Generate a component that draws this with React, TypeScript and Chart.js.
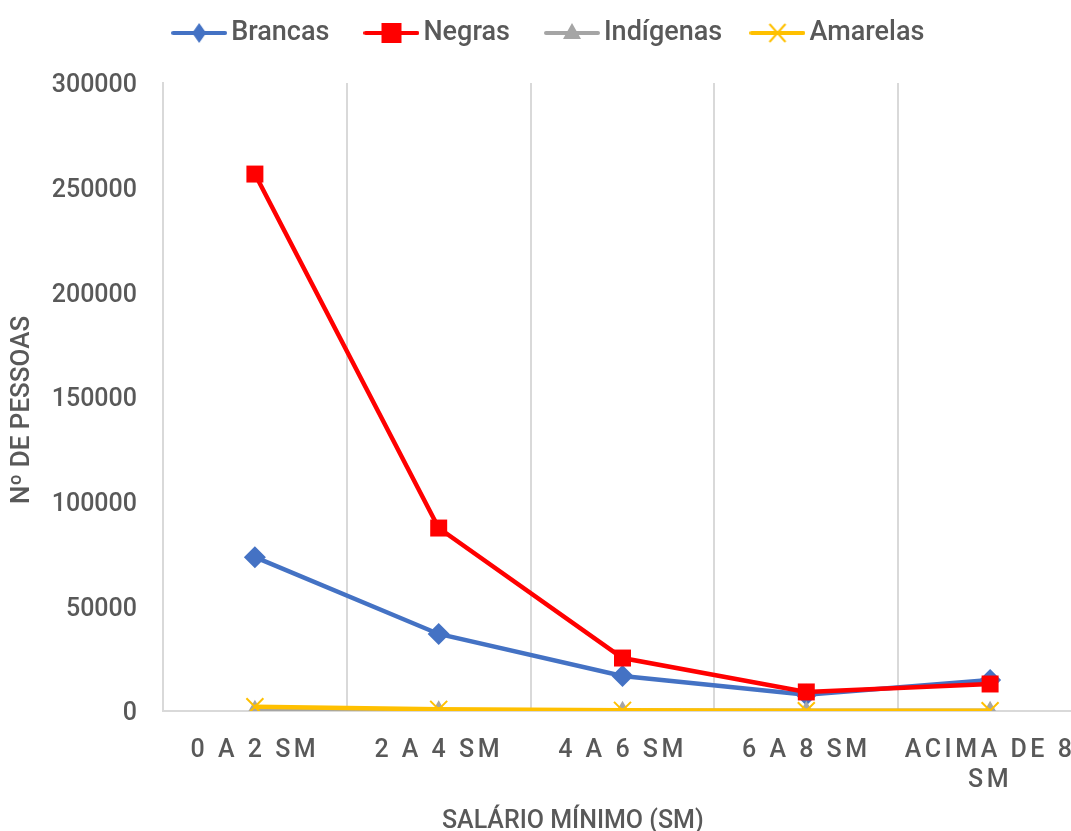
import React, { useEffect, useRef } from 'react';
import { Chart, registerables } from 'chart.js';

Chart.register(...registerables);

// ---- data ----
const categories: (string | string[])[] = ['0 A 2 SM', '2 A 4 SM', '4 A 6 SM', '6 A 8 SM', ['ACIMA DE 8', 'SM']];
const seriesNames = ['Brancas', 'Negras', 'Indígenas', 'Amarelas'];
const brancas = [73500, 36800, 16700, 7800, 14800];
const negras = [256500, 87400, 25300, 9100, 12900];
const indigenas = [600, 300, 150, 80, 80];
const amarelas = [2000, 800, 300, 150, 150];
const yTickValues = [0, 50000, 100000, 150000, 200000, 250000, 300000];
const yTitle = 'Nº DE PESSOAS';
const xTitle = 'SALÁRIO MÍNIMO (SM)';

// ---- styles ----
const colors = ['#4472C4', '#FF0000', '#A5A5A5', '#FFC000'];
const markers = ['diamond', 'square', 'triangle', 'cross'];
const legendGaps = [5, 5, 4, 0];
const TEXT = '#595959';
const GRID = '#D9D9D9';
const FONT = 'Roboto, "DejaVu Sans", sans-serif';
const NBSP = '\u00a0';

function makeLegendImage(color: string, marker: string): HTMLCanvasElement {
  const c = document.createElement('canvas');
  c.width = 56;
  c.height = 30;
  const g = c.getContext('2d')!;
  const cx = 28, cy = 15;
  g.strokeStyle = color;
  g.lineWidth = 4;
  g.lineCap = 'round';
  g.beginPath();
  g.moveTo(2, cy);
  g.lineTo(54, cy);
  g.stroke();
  g.fillStyle = color;
  if (marker === 'diamond') {
    g.beginPath();
    g.moveTo(cx, cy - 10);
    g.lineTo(cx + 7, cy);
    g.lineTo(cx, cy + 10);
    g.lineTo(cx - 7, cy);
    g.closePath();
    g.fill();
  } else if (marker === 'square') {
    g.fillRect(cx - 10, cy - 10, 20, 20);
  } else if (marker === 'triangle') {
    g.beginPath();
    g.moveTo(cx, cy - 10);
    g.lineTo(cx + 9, cy + 6);
    g.lineTo(cx - 9, cy + 6);
    g.closePath();
    g.fill();
  } else {
    g.lineWidth = 2;
    g.lineCap = 'butt';
    g.beginPath();
    g.moveTo(cx - 8, cy - 9);
    g.lineTo(cx + 8, cy + 9);
    g.moveTo(cx + 8, cy - 9);
    g.lineTo(cx - 8, cy + 9);
    g.stroke();
  }
  return c;
}

const LEGEND_DX = 9;
const legendTweak = {
  id: 'legendTweak',
  beforeLayout(chart: any) {
    const lg = chart.legend;
    if (lg && !lg.__patched) {
      const origFit = lg.fit;
      lg.fit = function () {
        origFit.call(this);
        this.height += 26.5;
      };
      const origDraw = lg.draw;
      lg.draw = function () {
        const c = this.ctx;
        c.save();
        c.translate(LEGEND_DX, 0);
        origDraw.call(this);
        c.restore();
      };
      lg.__patched = true;
    }
  },
};

const labelTweak = {
  id: 'labelTweak',
  afterLayout(chart: any) {
    const xs = chart.scales.x;
    if (xs && !xs.__ls) {
      const orig = xs.drawLabels;
      xs.drawLabels = function (area: any) {
        const ctx = this.ctx;
        const prev = ctx.letterSpacing;
        ctx.letterSpacing = '3.5px';
        orig.call(this, area);
        ctx.letterSpacing = prev || '0px';
      };
      xs.__ls = true;
    }
    const ys = chart.scales.y;
    if (ys && !ys.__ls) {
      const orig = ys.drawLabels;
      ys.drawLabels = function (area: any) {
        const ctx = this.ctx;
        ctx.save();
        ctx.translate(0, 3);
        orig.call(this, area);
        ctx.restore();
      };
      ys.__ls = true;
    }
  },
};

export default function App() {
  const ref = useRef<HTMLCanvasElement>(null);

  useEffect(() => {
    if (!ref.current) return;
    const seriesData = [brancas, negras, indigenas, amarelas];
    const pointStyles = ['rectRot', 'rect', 'triangle', 'crossRot'];
    const pointRadii = [11, 12, 10, 12];
    const images = colors.map((c, i) => makeLegendImage(c, markers[i]));

    const chart = new Chart(ref.current, {
      type: 'line',
      data: {
        labels: categories as any,
        datasets: seriesNames.map((name, i) => ({
          label: name,
          data: seriesData[i],
          borderColor: colors[i],
          backgroundColor: colors[i],
          borderWidth: 4.5,
          pointStyle: pointStyles[i] as any,
          pointRadius: pointRadii[i],
          pointBackgroundColor: colors[i],
          pointBorderColor: colors[i],
          pointBorderWidth: i === 3 ? 2 : 0,
          tension: 0,
          order: 3 - i,
        })),
      },
      options: {
        responsive: false,
        animation: false,
        layout: { padding: { top: 9.5, right: 9, bottom: 0, left: 0 } },
        plugins: {
          legend: {
            position: 'top',
            labels: {
              usePointStyle: true,
              pointStyleWidth: 37,
              padding: 10,
              color: TEXT,
              font: { family: FONT, size: 27, weight: '500' as any },
              sort: (a: any, b: any) => a.datasetIndex - b.datasetIndex,
              generateLabels: (ch: any) => {
                const items = Chart.defaults.plugins.legend.labels.generateLabels(ch);
                return items.map((it: any) => ({
                  ...it,
                  pointStyle: images[it.datasetIndex],
                  text: it.text + NBSP.repeat(legendGaps[it.datasetIndex]),
                  fontColor: TEXT,
                }));
              },
            },
          },
          tooltip: { enabled: false },
        },
        scales: {
          x: {
            offset: true,
            grid: { display: true, offset: true, color: GRID, lineWidth: 2, drawTicks: false },
            border: { display: true, color: GRID, width: 2 },
            ticks: {
              padding: 25,
              maxRotation: 0,
              minRotation: 0,
              autoSkip: false,
              color: TEXT,
              font: { family: FONT, size: 25, weight: '500' as any, lineHeight: 1.2 },
            },
            title: {
              display: true,
              text: xTitle + NBSP.repeat(16),
              color: TEXT,
              font: { family: FONT, size: 25, weight: '500' as any, lineHeight: 0.72 },
              padding: { top: 13, bottom: 0 },
            },
            afterFit: (s: any) => {
              s.height = 120;
              s.paddingLeft = 0;
              s.paddingRight = 0;
            },
          },
          y: {
            min: 0,
            max: 300000,
            grid: { display: false, drawTicks: false },
            border: { display: true, color: GRID, width: 2 },
            afterBuildTicks: (s: any) => {
              s.ticks = yTickValues.map((v) => ({ value: v }));
            },
            ticks: {
              padding: 26,
              color: TEXT,
              font: { family: FONT, size: 25, weight: '500' as any },
              callback: (v: any) => String(v),
            },
            title: {
              display: true,
              text: yTitle + NBSP.repeat(4),
              color: TEXT,
              font: { family: FONT, size: 26, weight: '500' as any, lineHeight: 1 },
              padding: { top: 9, bottom: 0 },
            },
            afterFit: (s: any) => {
              s.width = 163;
            },
          },
        },
      },
      plugins: [legendTweak, labelTweak],
    });
    return () => chart.destroy();
  }, []);

  return (
    <div
      style={{
        position: 'fixed',
        left: 0,
        top: 0,
        width: 1071,
        height: 831,
        overflow: 'hidden',
        background: '#ffffff',
      }}
    >
      <canvas ref={ref} width={1096} height={831} style={{ width: 1096, height: 831, display: 'block' }} />
    </div>
  );
}
